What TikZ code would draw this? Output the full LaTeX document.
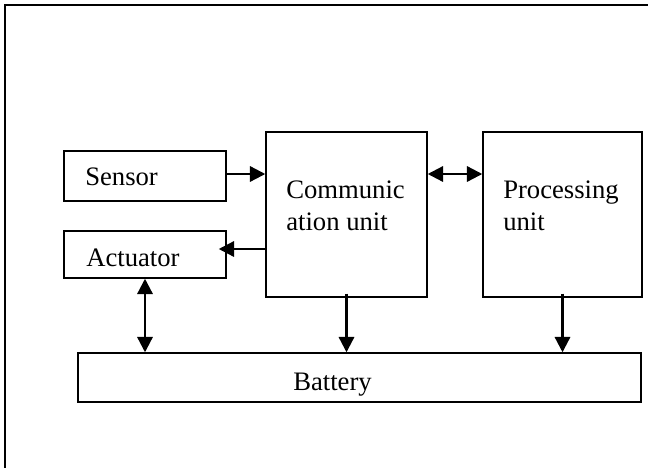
\documentclass[tikz,border=0pt]{standalone}
\usepackage{fontspec}
\setmainfont{Liberation Serif}
\usetikzlibrary{arrows.meta,fit}
\begin{document}
\begin{tikzpicture}[x=0.75pt,y=-0.75pt,
  box/.style={draw, line width=1.1pt, inner sep=0pt},
  lbl/.style={inner sep=0pt, anchor=base west, font=\fontsize{20}{23.3}\selectfont, align=left},
  arr/.style={line width=1.7pt, -{Triangle[length=11.5pt,width=11.5pt]}},
  darr/.style={line width=1.7pt, {Triangle[length=11.5pt,width=11.5pt]}-{Triangle[length=11.5pt,width=11.5pt]}}]
\useasboundingbox (0,0) rectangle (648,467);
\clip (0,0) rectangle (648,467);
\draw[line width=1.5pt] (5,5) rectangle (680,500);
% boxes
\node[box, fit={(64,151)(226,201)}] (sensor) {};
\node[box, fit={(64,231)(226,278)}] (actuator) {};
\node[box, fit={(266,132)(427,297)}] (comm) {};
\node[box, fit={(483,132)(642,297)}] (proc) {};
\node[box, fit={(78,353)(641,402)}] (battery) {};
% labels
\node[lbl] (tsensor) at (85,185) {Sensor};
\node[lbl] (tact) at (86,266) {Actuator};
\node[lbl] (tcomm) at (286,230) {Communic\\ation unit};
\node[lbl] (tproc) at (503,230) {Processing\\unit};
\node[lbl] (tbat) at (293,390) {Battery};
% connectors
\draw[arr] (sensor.east |- 0,174) -- (comm.west |- 0,174);
\draw[arr, shorten >=-6pt] (comm.west |- 0,249) -- (actuator.east |- 0,249);
\draw[darr] (comm.east |- 0,174) -- (proc.west |- 0,174);
\draw[darr] (actuator.south) -- (actuator.south |- battery.north);
\draw[arr, shorten <=-3pt] (comm.south) -- (comm.south |- battery.north);
\draw[arr, shorten <=-3pt] (proc.south) -- (proc.south |- battery.north);
\end{tikzpicture}
\end{document}
